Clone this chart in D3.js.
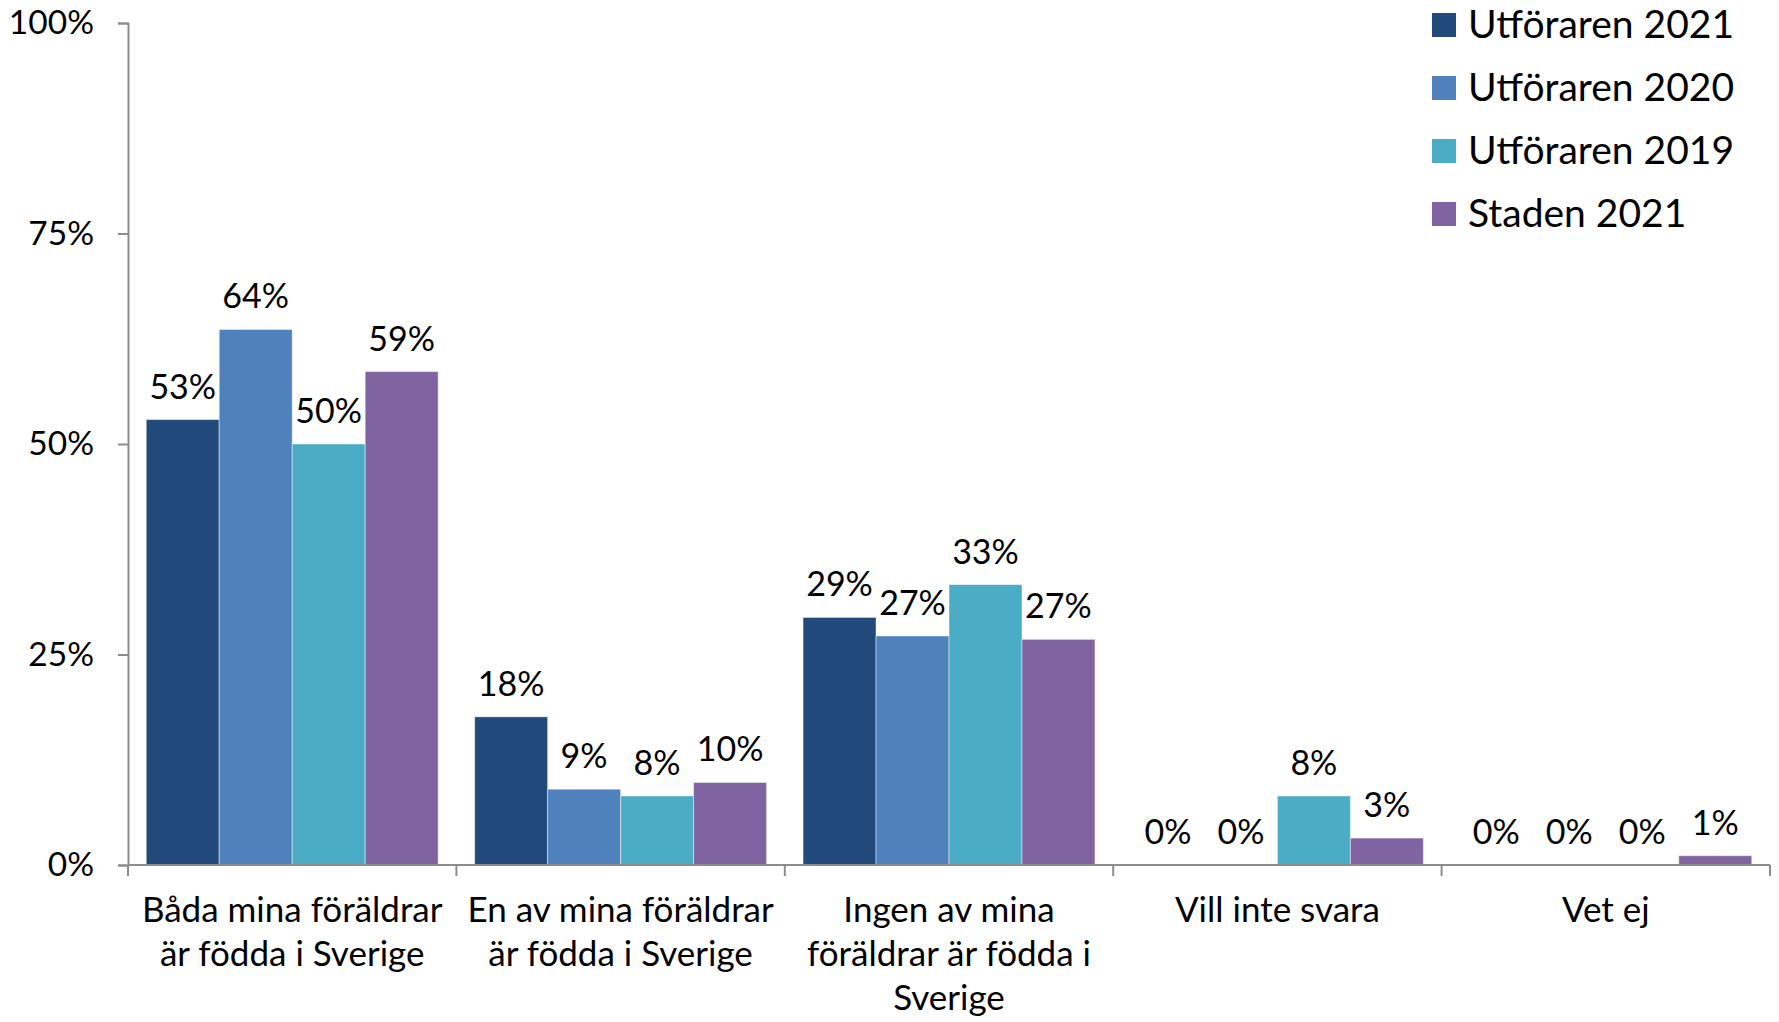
<!doctype html>
<html>
<head>
<meta charset="utf-8" />
<title>Föräldrar födda i Sverige</title>
<script src="https://cdn.jsdelivr.net/npm/d3@7"></script>
<style>
  html, body { margin: 0; padding: 0; background: #fff; }
  svg { display: block; }
</style>
</head>
<body>
<script>
// categories and series
const categories = [
  "Båda mina föräldrar\när födda i Sverige",
  "En av mina föräldrar\när födda i Sverige",
  "Ingen av mina\nföräldrar är födda i\nSverige",
  "Vill inte svara",
  "Vet ej"
];
const seriesNames = ["Utföraren 2021", "Utföraren 2020", "Utföraren 2019", "Staden 2021"];
const colors = ["#214a7b", "#4f81bd", "#4bacc6", "#8064a2"];

// values (share of respondents)
const utforaren2021 = [0.529, 0.176, 0.294, 0, 0];
const utforaren2020 = [0.636, 0.090, 0.272, 0, 0];
const utforaren2019 = [0.500, 0.082, 0.333, 0.082, 0];
const staden2021    = [0.586, 0.098, 0.268, 0.032, 0.011];

const yTicks = [0, 0.25, 0.5, 0.75, 1];

const seriesValues = [utforaren2021, utforaren2020, utforaren2019, staden2021];

const width = 1779, height = 1022;
const margin = { top: 23, right: 9, bottom: 157, left: 128 };
const font = "Lato, 'Open Sans', sans-serif";
const axisColor = "#8c8c8c";

const svg = d3.select("body").append("svg")
  .attr("width", width)
  .attr("height", height)
  .style("font-family", font);

const x0 = d3.scaleBand()
  .domain(categories)
  .range([margin.left, width - margin.right])
  .paddingInner(0)
  .paddingOuter(0);

const x1 = d3.scaleBand()
  .domain(seriesNames)
  .range([0, x0.bandwidth()])
  .paddingInner(0)
  .paddingOuter(0.25);

const y = d3.scaleLinear()
  .domain([0, 1])
  .range([height - margin.bottom, margin.top]);

const pct = d3.format(".0%");

// bars
const rows = [];
categories.forEach((c, i) => {
  seriesNames.forEach((s, j) => {
    rows.push({ cat: c, series: s, value: seriesValues[j][i], color: colors[j] });
  });
});

const g = svg.append("g");
g.selectAll("rect")
  .data(rows)
  .join("rect")
  .attr("x", d => x0(d.cat) + x1(d.series))
  .attr("y", d => y(d.value))
  .attr("width", x1.bandwidth())
  .attr("height", d => y(0) - y(d.value))
  .attr("fill", d => d.color)
  .attr("stroke", "rgba(255,255,255,0.45)")
  .attr("stroke-width", 1);

// value labels
g.selectAll("text.val")
  .data(rows)
  .join("text")
  .attr("class", "val")
  .attr("x", d => x0(d.cat) + x1(d.series) + x1.bandwidth() / 2)
  .attr("y", d => y(d.value) - 21)
  .attr("text-anchor", "middle")
  .style("font-size", "34px")
  .attr("fill", "#000")
  .text(d => pct(d.value));

// y axis
const yAxis = svg.append("g")
  .attr("transform", `translate(${margin.left},0)`)
  .call(d3.axisLeft(y).tickValues(yTicks).tickFormat(pct).tickSize(10).tickPadding(24));
yAxis.select(".domain").attr("stroke", axisColor).attr("stroke-width", 2);
yAxis.selectAll(".tick line").attr("stroke", axisColor).attr("stroke-width", 2);
yAxis.selectAll(".tick text")
  .style("font-size", "33.5px")
  .style("font-family", font)
  .attr("fill", "#000");

// x axis: line plus ticks on category boundaries
const xAxisG = svg.append("g");
xAxisG.append("line")
  .attr("x1", x0.range()[0]).attr("x2", x0.range()[1])
  .attr("y1", y(0)).attr("y2", y(0))
  .attr("stroke", axisColor).attr("stroke-width", 2);
const boundaries = categories.map(c => x0(c)).concat([x0.range()[1]]);
xAxisG.selectAll("line.tk")
  .data(boundaries)
  .join("line")
  .attr("class", "tk")
  .attr("x1", d => d).attr("x2", d => d)
  .attr("y1", y(0)).attr("y2", y(0) + 11)
  .attr("stroke", axisColor).attr("stroke-width", 2);

// category labels (wrapped)
const catLabels = xAxisG.selectAll("text.cat")
  .data(categories)
  .join("text")
  .attr("class", "cat")
  .attr("text-anchor", "middle")
  .style("font-size", "35px")
  .attr("fill", "#000");
catLabels.each(function(c) {
  const lines = c.split("\n");
  d3.select(this).selectAll("tspan")
    .data(lines)
    .join("tspan")
    .attr("x", x0(c) + x0.bandwidth() / 2)
    .attr("y", (d, i) => y(0) + 57 + i * 44)
    .text(d => d);
});

// legend
const legend = svg.append("g").attr("transform", "translate(1432,13)");
const item = legend.selectAll("g")
  .data(seriesNames)
  .join("g")
  .attr("transform", (d, i) => `translate(0,${i * 63})`);
item.append("rect")
  .attr("width", 24).attr("height", 24)
  .attr("fill", (d, i) => colors[i]);
item.append("text")
  .attr("x", 36)
  .attr("y", 25)
  .style("font-size", "39px")
  .attr("fill", "#000")
  .text(d => d);
</script>
</body>
</html>
